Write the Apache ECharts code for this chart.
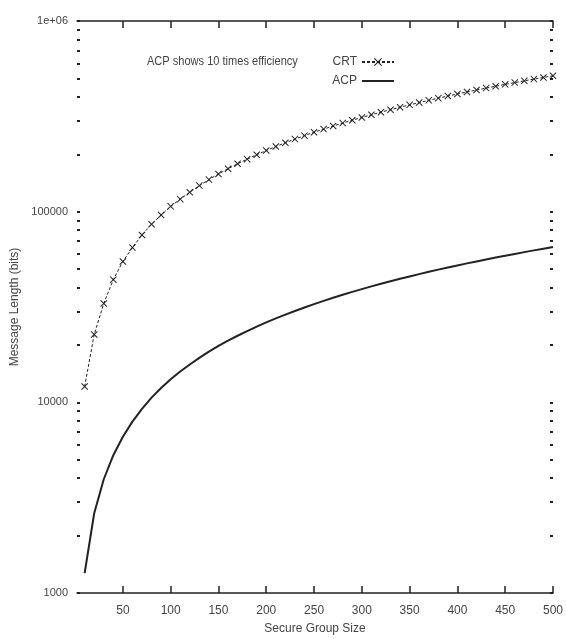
<!DOCTYPE html>
<html>
<head>
<meta charset="utf-8">
<script src="https://cdn.jsdelivr.net/npm/echarts@6/dist/echarts.min.js"></script>
<style>
  html, body { margin: 0; padding: 0; background: #fff; }
  #chart { width: 566px; height: 643px; }
</style>
</head>
<body>
<div id="chart"></div>
<script>
// group sizes (x), read every 10 along the CRT markers
var groupSize = [10, 20, 30, 40, 50, 60, 70, 80, 90, 100,
  110, 120, 130, 140, 150, 160, 170, 180, 190, 200,
  210, 220, 230, 240, 250, 260, 270, 280, 290, 300,
  310, 320, 330, 340, 350, 360, 370, 380, 390, 400,
  410, 420, 430, 440, 450, 460, 470, 480, 490, 500];

// message length in bits
var crtBits = [12100, 22700, 33000, 44000, 54800, 64800, 75500, 85900, 96000, 106600,
  116300, 126500, 137000, 147300, 157600, 168000, 178300, 188600, 199000, 209300,
  219600, 230000, 240200, 250500, 260800, 271000, 281300, 291500, 301800, 312000,
  322300, 332500, 342700, 353000, 363200, 373400, 383600, 393800, 404000, 414200,
  424400, 434600, 444800, 455000, 465200, 475300, 485500, 495700, 505800, 516000];

var acpBits = [1270, 2620, 3950, 5280, 6600, 7920, 9250, 10580, 11900, 13200,
  14500, 15800, 17100, 18450, 19750, 21050, 22350, 23650, 24950, 26250,
  27550, 28850, 30150, 31450, 32750, 34050, 35350, 36650, 37950, 39250,
  40550, 41850, 43150, 44450, 45750, 47050, 48350, 49650, 50950, 52250,
  53550, 54850, 56150, 57450, 58750, 60050, 61350, 62650, 63950, 65250];

var xTicks = [50, 100, 150, 200, 250, 300, 350, 400, 450, 500];
var yLabels = [1000, 10000, 100000, 1000000];
var yTicks = [1000, 2000, 3000, 4000, 5000, 6000, 7000, 8000, 9000,
  10000, 20000, 30000, 40000, 50000, 60000, 70000, 80000, 90000,
  100000, 200000, 300000, 400000, 500000, 600000, 700000, 800000, 900000, 1000000];

var font = "'Liberation Sans Narrow', 'Liberation Sans', sans-serif";
var ink = '#222';

function pairs(xs, ys) {
  return xs.map(function (x, i) { return [x, ys[i]]; });
}

var crossPath = 'path://M0,1 L1,0 L5,4 L9,0 L10,1 L6,5 L10,9 L9,10 L5,6 L1,10 L0,9 L4,5 Z';

var chart = echarts.init(document.getElementById('chart'));

function xAxisCfg(pos, labels) {
  return {
    type: 'value', position: pos, min: 2, max: 500,
    axisLine: { show: true, lineStyle: { color: ink, width: 1.5 } },
    axisTick: { show: true, inside: true, length: 7, customValues: xTicks,
      lineStyle: { color: ink, width: 1.5 } },
    axisLabel: { show: labels, customValues: xTicks, color: '#444', fontSize: 12,
      fontFamily: font, margin: 12 },
    splitLine: { show: false },
    name: labels ? 'Secure Group Size' : '',
    nameLocation: 'middle', nameGap: 30,
    nameTextStyle: { color: '#444', fontSize: 12, fontFamily: font }
  };
}

function yAxisCfg(pos, labels) {
  return {
    type: 'log', logBase: 10, position: pos, min: 1000, max: 1000000,
    axisLine: { show: false },
    axisTick: { show: true, inside: true, length: 3, customValues: yTicks,
      lineStyle: { color: ink, width: 2 } },
    axisLabel: { show: labels, customValues: yLabels, color: '#444', fontSize: 11,
      fontFamily: font, margin: 9,
      formatter: function (v) { return v >= 1000000 ? '1e+06' : String(v); } },
    splitLine: { show: false },
    name: labels ? 'Message Length (bits)' : '',
    nameLocation: 'middle', nameGap: 54,
    nameTextStyle: { color: '#444', fontSize: 12, fontFamily: font }
  };
}

chart.setOption({
  animation: false,
  backgroundColor: '#fff',
  grid: { left: 77, right: 11, top: 21, bottom: 50 },
  xAxis: [xAxisCfg('bottom', true), xAxisCfg('top', false)],
  yAxis: [yAxisCfg('left', true), yAxisCfg('right', false)],
  legend: {
    orient: 'vertical', right: 171, top: 56, padding: 0,
    align: 'right', itemWidth: 32, itemHeight: 10, itemGap: 7,
    textStyle: { color: '#444', fontSize: 12, fontFamily: font },
    data: ['CRT', { name: 'ACP', itemStyle: { opacity: 0 } }]
  },
  graphic: [{
    type: 'text', left: 147, top: 55, scaleX: 0.85,
    style: { text: 'ACP shows 10 times efficiency', fill: '#444',
      font: '13px ' + font }
  }],
  series: [{
    name: 'CRT', type: 'line', data: pairs(groupSize, crtBits),
    symbol: crossPath, symbolSize: 7,
    itemStyle: { color: ink },
    lineStyle: { color: ink, width: 1, type: [3, 2] }
  }, {
    name: 'ACP', type: 'line', data: pairs(groupSize, acpBits),
    symbol: 'none',
    itemStyle: { color: ink },
    lineStyle: { color: ink, width: 2 }
  }]
});
</script>
</body>
</html>
